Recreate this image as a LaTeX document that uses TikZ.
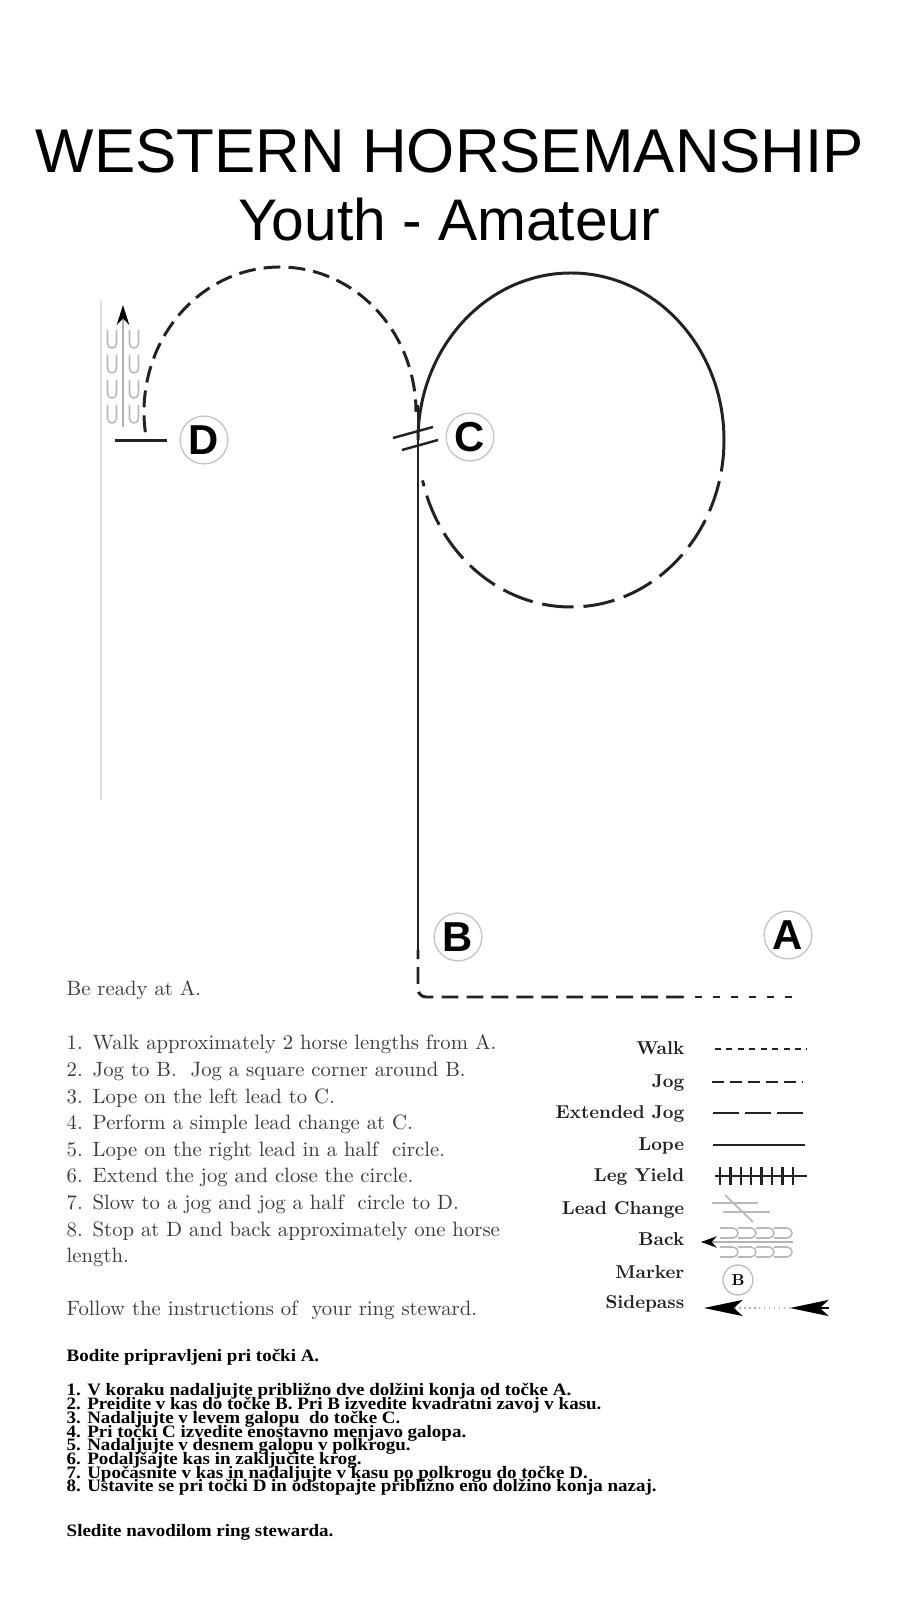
\documentclass[tikz,border=0pt]{standalone}
\usepackage{fontspec}
\usepackage{xcolor}
\usepackage{tikz}
\usetikzlibrary{arrows.meta, calc}

\newfontfamily\headfont{Liberation Sans}
\newfontfamily\slofont{Liberation Serif}
\newfontfamily\bodyfont{lmroman10-regular}[Extension=.otf, BoldFont=lmroman10-bold]

\definecolor{inkline}{HTML}{222222}
\definecolor{inktext}{HTML}{3A3A3A}

\newcommand{\squash}[1]{\scalebox{1}[0.92]{#1}}

\begin{document}
\begin{tikzpicture}[
    x=0.1mm, y=0.1mm,
    every node/.style={inner sep=0pt},
    gait/.style={inkline, line width=0.85pt},
    walkline/.style={gait, dash pattern=on 2pt off 3.1pt},
    jogline/.style={gait, dash pattern=on 4.8pt off 2.3pt},
    extjogline/.style={gait, dash pattern=on 9pt off 2.8pt},
    lopeline/.style={gait},
    legline/.style={inkline, line width=0.7pt},
    arenamark/.style={circle, draw=gray!45, line width=0.4pt, minimum size=13.6pt,
      font=\headfont\bfseries\fontsize{11.9}{11.9}\selectfont},
    steptext/.style={anchor=base west, text=inktext, font=\bodyfont\fontsize{5.9}{7}\selectfont},
    legendtext/.style={anchor=base east, text=inkline, font=\bodyfont\bfseries\fontsize{5.3}{6}\selectfont},
    slotext/.style={anchor=base west, font=\slofont\bfseries\fontsize{5.4}{6}\selectfont},
    backshoe/.style={gray!55, line width=0.45pt},
  ]
  \useasboundingbox (0,0) rectangle (900,1600);

  % Heading
  \node[anchor=base, font=\headfont\fontsize{17.6}{18}\selectfont] (title) at (450,1427) {WESTERN HORSEMANSHIP};
  \node[anchor=base, font=\headfont\fontsize{16.7}{17}\selectfont] (subtitle) at (449,1359) {Youth - Amateur};

  % Faint fence line
  \draw[gray!25, line width=0.4pt] (101,800) -- (101,1300);

  % Markers
  \node[arenamark] (markD) at (204,1160) {D};
  \node[arenamark] (markC) at (470,1163) {C};
  \node[arenamark] (markB) at (458,663) {B};
  \node[arenamark] (markA) at (788,665) {A};

  % Walk from A, jog to B with a square corner
  \draw[walkline] (792,603) -- (683,603);
  \draw[jogline, rounded corners=2.3pt] (683,603) -- (418,603) -- (418,650);

  % Lope on the left lead to C
  \draw[lopeline] (418,650) -- (418,1195);

  % Simple lead change at C
  \draw[gait, line width=0.7pt] (393,1162) -- (433,1173);
  \draw[gait, line width=0.7pt] (402,1150) -- (438,1160);

  % Right lead half circle, then extended jog to close it
  \draw[lopeline] (418,1160) arc[start angle=180, end angle=0, x radius=153, y radius=167];
  \draw[extjogline] (724,1160) arc[start angle=0, end angle=-166, x radius=153, y radius=167];

  % Jog half circle to D
  \draw[jogline] ([shift={(188:136 and 145)}]280,1188) arc[start angle=188, end angle=0, x radius=136, y radius=145];

  % Stop at D and back
  \draw[gait] (115,1159) -- (167,1159);
  \draw[gray!60, line width=0.6pt, -{Stealth[black, length=5.7pt, width=3.6pt]}] (123,1173) -- (123,1295);
  \foreach \ux in {112,134}
    \foreach \uy in {1270,1245,1220,1195}
      \draw[backshoe] (\ux-4.5,\uy) -- (\ux-4.5,\uy-13.5) arc[start angle=180, end angle=360, radius=4.5] -- (\ux+4.5,\uy);

  % Instructions
  \node[steptext] (ready) at (66,604) {Be ready at A.};
  \foreach \n/\t [count=\i] in {
      1/Walk approximately 2 horse lengths from A.,
      2/Jog to B.\ \ Jog a square corner around B.,
      3/Lope on the left lead to C.,
      4/Perform a simple lead change at C.,
      5/Lope on the right lead in a half\ \ circle.,
      6/Extend the jog and close the circle.,
      7/Slow to a jog and jog a half\ \ circle to D.,
      8/Stop at D and back approximately one horse}
    \node[steptext] (step\i) at (66,{550-26.6*(\i-1)}) {\makebox[7.4pt][l]{\n.}\t};
  \node[steptext] (steplast) at (66,337) {length.};
  \node[steptext] (follow) at (66,284) {Follow the instructions of\ \ your ring steward.};

  % Legend
  \foreach \lab/\yb [count=\i] in {Walk/545, Jog/512, Extended Jog/481, Lope/449, Leg Yield/418,
      Lead Change/385, Back/354, Marker/321, Sidepass/291}
    \node[legendtext] (leg\i) at (685,\yb) {\lab};

  \draw[legline, dash pattern=on 1.7pt off 1.55pt] (715,551) -- (807,551);
  \draw[legline, dash pattern=on 3.4pt off 1.7pt] (712,518) -- (803,518);
  \draw[legline, dash pattern=on 7.4pt off 1.7pt] (713,487) -- (805,487);
  \draw[legline] (713,455) -- (805,455);

  % Leg yield ticks
  \draw[legline] (715,424) -- (807,424);
  \foreach \k in {0,...,7}
    \draw[legline] (720+10.4*\k,415) -- (720+10.4*\k,433);

  % Lead change sign
  \draw[gray!55, line width=0.5pt] (712,397) -- (758,397);
  \draw[gray!55, line width=0.5pt] (723,388) -- (770,388);
  \draw[gray!55, line width=0.5pt] (725,405) -- (753,378);

  % Back sign
  \draw[gray!60, line width=0.6pt, -{Stealth[black, length=4.5pt, width=3.2pt]}] (793,358) -- (701,358);
  \foreach \bx in {720,738,756,774}
    \foreach \by in {367,348}
      \draw[backshoe] (\bx,\by+5) -- (\bx+13,\by+5) arc[start angle=90, end angle=-90, radius=5] -- (\bx,\by-5);

  % Marker sign
  \node[circle, draw=gray!50, line width=0.4pt, minimum size=8.5pt, font=\bodyfont\bfseries\fontsize{4.5}{4.5}\selectfont] (legmark) at (738,320) {B};

  % Sidepass sign
  \draw[gray!60, densely dotted, line width=0.4pt, -{Stealth[black, length=11pt, width=4.6pt, inset=2.5pt]}] (790,292) -- (704,292);
  \draw[-{Stealth[black, length=11pt, width=4.6pt, inset=2.5pt]}] (829,292) -- (790,292);

  % Slovenian version
  \node[slotext] (sloready) at (66,238) {\squash{Bodite pripravljeni pri točki A.}};
  \foreach \t [count=\i] in {
      1. V koraku nadaljujte približno dve dolžini konja od točke A.,
      2. Preidite v kas do točke B. Pri B izvedite kvadratni zavoj v kasu.,
      3. Nadaljujte v levem galopu\ \ do točke C.,
      4. Pri točki C izvedite enostavno menjavo galopa.,
      5. Nadaljujte v desnem galopu v polkrogu.,
      6. Podaljšajte kas in zaključite krog.,
      7. Upočasnite v kas in nadaljujte v kasu po polkrogu do točke D.,
      8. Ustavite se pri točki D in odstopajte približno eno dolžino konja nazaj.}
    \node[slotext] (slo\i) at (66,{204-13.7*(\i-1)}) {\squash{\t}};
  \node[slotext] (slofollow) at (66,64) {\squash{Sledite navodilom ring stewarda.}};
\end{tikzpicture}
\end{document}
